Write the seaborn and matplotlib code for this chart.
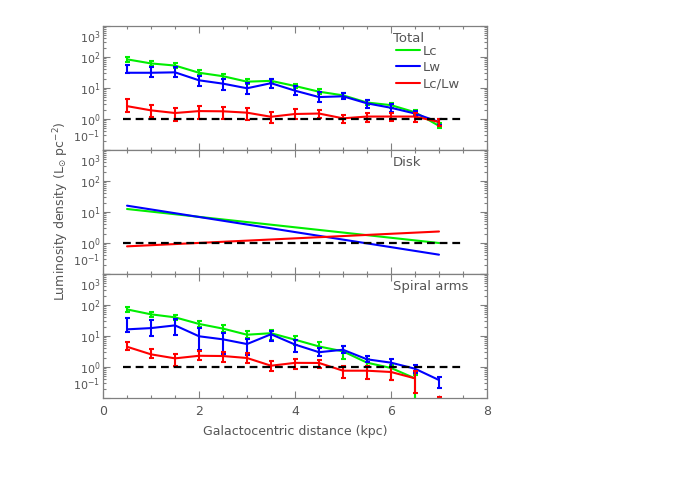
import numpy as np
import matplotlib
matplotlib.use("Agg")
import matplotlib.pyplot as plt
from matplotlib.lines import Line2D
from matplotlib.ticker import MultipleLocator
from matplotlib.transforms import ScaledTranslation
import seaborn as sns

# -----------------------------
#  Data
# -----------------------------
r_kpc = [0.5, 1.0, 1.5, 2.0, 2.5, 3.0, 3.5, 4.0, 4.5, 5.0, 5.5, 6.0, 6.5, 7.0]

# Total
lc_tot = [84, 62, 53, 31, 24, 16, 17, 11.6, 7.6, 5.8, 3.4, 2.8, 1.65, 0.6]
lc_tot_lo = [71, 53, 45, 26, 20, 13.5, 14, 9.7, 6.4, 4.9, 2.9, 2.3, 1.4, 0.5]
lc_tot_hi = [100, 74, 63, 37, 29, 19, 20, 13.8, 9.0, 6.9, 4.0, 3.3, 1.95, 0.72]
lw_tot = [31, 31, 32, 17.7, 13.8, 9.8, 14.3, 8.2, 5.1, 5.4, 3.2, 2.3, 1.5, 0.8]
lw_tot_lo = [29.7, 23, 22.6, 11.3, 8.6, 6.3, 10.3, 5.8, 3.5, 4.3, 2.3, 1.7, 1.25, 0.66]
lw_tot_hi = [55, 49, 47, 25, 19.5, 14.5, 20, 11.6, 7.4, 6.7, 4.1, 3.0, 1.85, 1.0]
ratio_tot = [2.6, 1.9, 1.56, 1.8, 1.77, 1.6, 1.18, 1.45, 1.5, 1.05, 1.2, 1.2, 1.2, 0.8]
ratio_tot_lo = [1.72, 1.16, 0.86, 1.0, 1.0, 0.96, 0.72, 0.97, 1.08, 0.72, 0.82, 0.86, 0.82, 0.61]
ratio_tot_hi = [4.3, 2.8, 2.3, 2.7, 2.45, 2.2, 1.68, 2.05, 1.95, 1.38, 1.56, 1.6, 1.6, 0.98]

# Disk (exponential profiles, end points)
r_disk = [0.5, 7.0]
lc_disk = [12.5, 1.0]
lw_disk = [16, 0.42]
ratio_disk = [0.78, 2.35]

# Spiral arms
lc_arm = [72, 50, 40, 24.5, 17.3, 11, 12.3, 7.6, 4.6, 3.2, 1.38, 0.93, 0.43, np.nan]
lc_arm_lo = [59, 41, 33, 19.5, 13.5, 8.5, 7.5, 5.2, 3.0, 1.75, 1.0, 0.38, 0.05, np.nan]
lc_arm_hi = [88, 61, 49, 31, 22, 14.5, 16, 10, 6.5, 4.8, 1.75, 1.15, 0.55, np.nan]
lw_arm = [16.4, 18, 22, 9.8, 7.8, 5.5, 11.4, 5.3, 3.0, 3.6, 1.77, 1.38, 0.88, 0.38]
lw_arm_lo = [13, 10, 11, 3.5, 2.6, 2.4, 6.8, 3.0, 2.26, 2.76, 1.41, 1.02, 0.66, 0.215]
lw_arm_hi = [37, 33, 35, 17.7, 12.2, 8.0, 14.7, 7.2, 4.0, 4.75, 2.3, 1.81, 1.16, 0.49]
ratio_arm = [4.5, 2.56, 1.9, 2.3, 2.26, 1.95, 1.1, 1.36, 1.35, 0.76, 0.76, 0.69, 0.43, np.nan]
ratio_arm_lo = [3.5, 1.9, 1.1, 1.64, 1.49, 1.31, 0.72, 0.88, 0.9, 0.43, 0.41, 0.38, 0.14, 0.05]
ratio_arm_hi = [6.25, 3.7, 2.56, 3.3, 2.97, 2.76, 1.52, 1.8, 1.72, 1.08, 1.05, 1.0, 0.76, 0.105]

panel_names = ["Total", "Disk", "Spiral arms"]
series_labels = ["Lc", "Lw", "Lc/Lw"]
y_ticks = [0.1, 1, 10, 100, 1000]
x_ticks = [0, 2, 4, 6, 8]

# -----------------------------
#  Style
# -----------------------------
GREEN, BLUE, RED = "#00ee00", "#0000ff", "#ff0000"
TXT = "#555555"
SPINE = "#808080"

sns.set_style("ticks")
plt.rcParams["font.family"] = ["DejaVu Sans"]
plt.rcParams["font.size"] = 9
plt.rcParams["text.color"] = TXT
plt.rcParams["axes.labelcolor"] = TXT
plt.rcParams["xtick.color"] = SPINE
plt.rcParams["ytick.color"] = SPINE
plt.rcParams["xtick.labelcolor"] = TXT
plt.rcParams["ytick.labelcolor"] = TXT
plt.rcParams["axes.edgecolor"] = SPINE


def draw_series(ax, x, y, lo=None, hi=None, color="k"):
    x = np.asarray(x, float)
    y = np.asarray(y, float)
    ok = ~np.isnan(y)
    sns.lineplot(x=x[ok], y=y[ok], color=color, lw=1.5, ax=ax,
                 estimator=None, legend=False)
    if lo is not None:
        lo = np.asarray(lo, float)
        hi = np.asarray(hi, float)
        good = ~np.isnan(lo)
        yc = np.where(np.isnan(y), lo, y)
        ax.errorbar(x[good], yc[good],
                    yerr=[yc[good] - lo[good], hi[good] - yc[good]],
                    fmt="none", ecolor=color, elinewidth=1.5,
                    capsize=1.8, capthick=1.5)


fig = plt.figure(figsize=(6.98, 4.98), dpi=100)
left, width, height = 0.1476, 0.5501, 0.249
bottoms = [0.6988, 0.4498, 0.2008]
axes = [fig.add_axes([left, b, width, height]) for b in bottoms]

draw_series(axes[0], r_kpc, lc_tot, lc_tot_lo, lc_tot_hi, GREEN)
draw_series(axes[0], r_kpc, lw_tot, lw_tot_lo, lw_tot_hi, BLUE)
draw_series(axes[0], r_kpc, ratio_tot, ratio_tot_lo, ratio_tot_hi, RED)

draw_series(axes[1], r_disk, lc_disk, color=GREEN)
draw_series(axes[1], r_disk, lw_disk, color=BLUE)
draw_series(axes[1], r_disk, ratio_disk, color=RED)

draw_series(axes[2], r_kpc, lc_arm, lc_arm_lo, lc_arm_hi, GREEN)
draw_series(axes[2], r_kpc, lw_arm, lw_arm_lo, lw_arm_hi, BLUE)
draw_series(axes[2], r_kpc, ratio_arm, ratio_arm_lo, ratio_arm_hi, RED)

for i, ax in enumerate(axes):
    # unity reference line
    ax.hlines(1, 0.42, 7.48, colors="black", linestyles=(0, (3.5, 2.2)),
              lw=1.6, zorder=4)
    ax.set_yscale("log")
    ax.set_ylim(0.1, 1000)
    ax.set_xlim(0, 8)
    ax.set_yticks(y_ticks)
    ax.set_xticks(x_ticks)
    ax.xaxis.set_minor_locator(MultipleLocator(0.5))
    ax.tick_params(which="both", direction="in", top=True, right=True,
                   width=0.8)
    ax.tick_params(which="major", length=5)
    ax.tick_params(which="minor", length=2.5)
    ax.tick_params(axis="y", labelsize=8, pad=2)
    ax.tick_params(axis="x", labelsize=9, pad=5)
    for s in ax.spines.values():
        s.set_linewidth(0.9)
    ax.set_xlabel("")
    ax.set_ylabel("")
    if i < 2:
        ax.tick_params(labelbottom=False)
    ax.text(0.755, 0.95, panel_names[i], transform=ax.transAxes,
            ha="left", va="top", fontsize=9.5, color=TXT)

# keep the end labels inside their own panel (they crowd in the original too)
fig.canvas.draw()
for ax in axes:
    ticks = ax.yaxis.get_major_ticks()
    lab_lo, lab_hi = ticks[0].label1, ticks[-1].label1
    lab_lo.set_va("bottom")
    lab_lo.set_transform(lab_lo.get_transform()
                         + ScaledTranslation(0, 3.5 / 72, fig.dpi_scale_trans))
    lab_hi.set_va("top")
    lab_hi.set_transform(lab_hi.get_transform()
                         + ScaledTranslation(0, -2.5 / 72, fig.dpi_scale_trans))

handles = [Line2D([], [], color=c, lw=1.5) for c in (GREEN, BLUE, RED)]
axes[0].legend(handles, series_labels, loc="upper left",
               bbox_to_anchor=(0.763, 0.85), frameon=False, borderpad=0,
               borderaxespad=0, handlelength=1.8, handletextpad=0.25,
               labelspacing=0.25, fontsize=9.5, labelcolor=TXT)

axes[2].set_xlabel("Galactocentric distance (kpc)", fontsize=9, labelpad=5)
fig.text(0.088, 0.5763, r"Luminosity density (L$_{\odot}$ pc$^{-2}$)",
         rotation=90, ha="center", va="center", fontsize=9, color=TXT)

fig.savefig("out.png", dpi=100, facecolor="white")
